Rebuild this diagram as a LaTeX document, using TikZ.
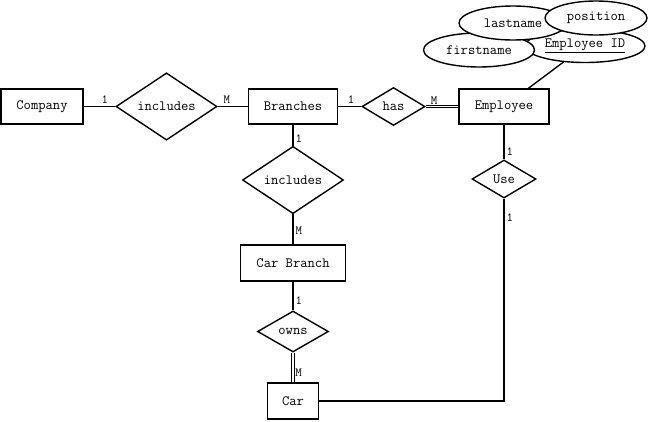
\documentclass[tikz,border=0pt]{standalone}
\usetikzlibrary{shapes.geometric}

\newcommand{\erfont}{\ttfamily\fontsize{14.2}{16}\selectfont}
\newcommand{\cardfont}{\ttfamily\fontsize{12.5}{14}\selectfont}

\tikzset{
  entity/.style={draw, line width=1.4pt, rectangle, minimum height=35pt, inner sep=0pt, font=\erfont},
  relation/.style={draw, line width=1.4pt, diamond, inner sep=0pt, font=\erfont},
  attribute/.style={draw, line width=1.4pt, ellipse, fill=white, inner sep=0pt, font=\erfont},
  link/.style={line width=1.4pt},
  dbl/.style={line width=0.9pt, double, double distance=1.6pt},
  card/.style={font=\cardfont, inner sep=2pt}
}

\begin{document}
\begin{tikzpicture}[x=1pt, y=-1pt]
  \useasboundingbox (0,0) rectangle (650,421);

  % Entities
  \node[entity, minimum width=82pt] (company) at (42,106.5) {Company};
  \node[entity, minimum width=89pt] (branches) at (293,106.5) {Branches};
  \node[entity, minimum width=90pt] (employee) at (504,106.5) {Employee};
  \node[entity, minimum width=105pt, minimum height=36pt] (carbranch) at (293,263) {Car Branch};
  \node[entity, minimum width=51pt, minimum height=36pt] (car) at (293,401) {Car};

  % Relationships
  \node[relation, minimum width=101pt, minimum height=61pt] (inclbranch) at (166.5,106.5) {includes};
  \node[relation, minimum width=63pt, minimum height=38pt] (has) at (393.5,106.5) {has};
  \node[relation, minimum width=101pt, minimum height=60pt] (inclcar) at (293,180) {includes};
  \node[relation, minimum width=71pt, minimum height=41pt] (owns) at (293,331.5) {owns};
  \node[relation, minimum width=64pt, minimum height=38pt] (use) at (504,179) {Use};

  % Attributes of Employee
  \node[attribute, minimum width=120pt, minimum height=33pt] (empid) at (585,46) {\underline{Employee ID}};
  \node[attribute, minimum width=111pt, minimum height=34pt] (firstname) at (479,50) {firstname};
  \node[attribute, minimum width=108pt, minimum height=34pt] (lastname) at (513,23) {lastname};
  \node[attribute, minimum width=102pt, minimum height=34pt] (position) at (596,18) {position};
  \draw[link] (empid) -- (employee);

  % Connectors with cardinalities
  \draw[link] (company) -- node[card, pos=0.67, above] {1} (inclbranch);
  \draw[link] (inclbranch) -- node[card, pos=0.3, above] {M} (branches);
  \draw[link] (branches) -- node[card, pos=0.56, above] {1} (has);
  \draw[dbl] (has) -- node[card, pos=0.26, above] {M} (employee);
  \draw[link] (branches) -- node[card, pos=0.65, right] {1} (inclcar);
  \draw[link] (inclcar) -- node[card, pos=0.54, right] {M} (carbranch);
  \draw[link] (carbranch) -- node[card, pos=0.67, right] {1} (owns);
  \draw[dbl] (owns) -- node[card, pos=0.68, right] {M} (car);
  \draw[link] (employee) -- node[card, pos=0.78, right] {1} (use);
  \draw[link] (use) |- node[card, pos=0.047, right] {1} (car);
\end{tikzpicture}
\end{document}
